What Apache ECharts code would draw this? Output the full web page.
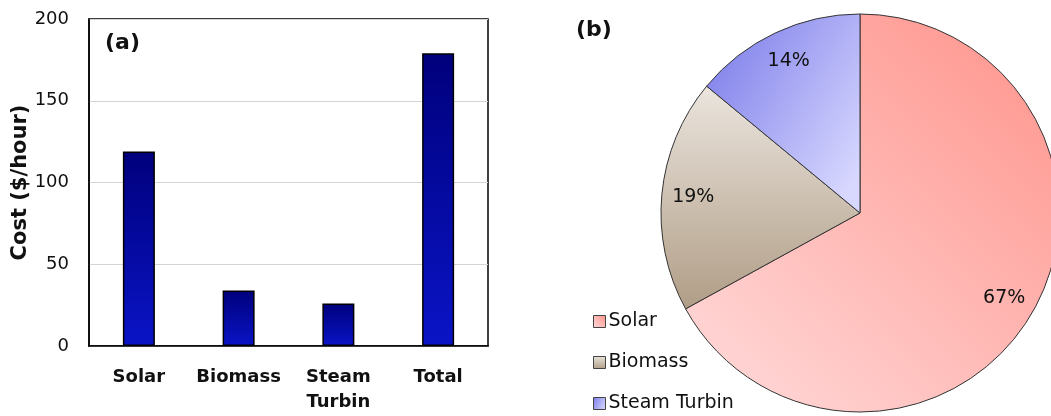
<!DOCTYPE html>
<html>
<head>
<meta charset="utf-8">
<script src="https://cdn.jsdelivr.net/npm/echarts@6/dist/echarts.min.js"></script>
<style>
  html, body { margin: 0; padding: 0; background: #fff; }
  #chart { width: 1051px; height: 416px; }
</style>
</head>
<body>
<div id="chart"></div>
<script>
// bar chart (a)
const categories = ['Solar', 'Biomass', 'Steam\nTurbin', 'Total'];
const costs = [119, 34, 26, 179];
// pie chart (b)
const shareNames = ['Solar', 'Biomass', 'Steam Turbin'];
const shares = [67, 19, 14];

const FONT = '"DejaVu Sans", Verdana, sans-serif';

const sliceColors = [
  { type: 'linear', x: 0, y: 1, x2: 1, y2: 0,
    colorStops: [{ offset: 0, color: '#ffdcdc' }, { offset: 1, color: '#ff928a' }] },
  { type: 'linear', x: 0, y: 0, x2: 0, y2: 1,
    colorStops: [{ offset: 0, color: '#ebe5de' }, { offset: 1, color: '#b09d86' }] },
  { type: 'linear', x: 0, y: 0.3, x2: 1, y2: 0.8,
    colorStops: [{ offset: 0, color: '#8585ec' }, { offset: 1, color: '#d8d8ff' }] }
];

const chart = echarts.init(document.getElementById('chart'));

chart.setOption({
  animation: false,
  textStyle: { fontFamily: FONT },
  title: [
    { text: '(a)', left: 100, top: 27,
      textStyle: { fontFamily: FONT, fontSize: 22, fontWeight: 'bold', color: '#111' } },
    { text: '(b)', left: 571, top: 14,
      textStyle: { fontFamily: FONT, fontSize: 22, fontWeight: 'bold', color: '#111' } }
  ],
  grid: {
    left: 89, top: 19, width: 399, height: 327,
    show: true, borderColor: '#000', borderWidth: 1.5, backgroundColor: 'transparent'
  },
  legend: {
    data: shareNames,
    orient: 'vertical',
    left: 588, top: 307, height: 110,
    itemWidth: 12, itemHeight: 12, itemGap: 22,
    icon: 'rect',
    itemStyle: { borderColor: '#444', borderWidth: 1 },
    textStyle: { fontFamily: FONT, fontSize: 19, color: '#111', padding: [0, 0, 0, -2] }
  },
  xAxis: {
    type: 'category',
    data: categories,
    axisLine: { show: true, lineStyle: { color: '#000', width: 1.5 } },
    axisTick: { show: false },
    axisLabel: {
      interval: 0, hideOverlap: false,
      margin: 19, color: '#111', fontSize: 18, fontWeight: 'bold',
      fontFamily: FONT, lineHeight: 25
    }
  },
  yAxis: {
    type: 'value',
    min: 0, max: 200, interval: 50,
    name: 'Cost ($/hour)',
    nameLocation: 'middle',
    nameGap: 55,
    nameTextStyle: { fontFamily: FONT, fontSize: 21, fontWeight: 'bold', color: '#111' },
    axisLine: { show: true, lineStyle: { color: '#000', width: 1.5 } },
    axisTick: { show: false },
    axisLabel: { margin: 20, color: '#111', fontSize: 18, fontFamily: FONT },
    splitLine: { show: true, lineStyle: { color: '#d4d4d4', width: 1 } }
  },
  series: [
    {
      type: 'bar',
      name: 'Cost',
      data: costs,
      barWidth: 32,
      itemStyle: {
        color: { type: 'linear', x: 0, y: 0, x2: 0, y2: 1,
          colorStops: [{ offset: 0, color: '#00007c' }, { offset: 1, color: '#0a14c6' }] },
        borderColor: '#000', borderWidth: 1.5
      }
    },
    {
      type: 'pie',
      name: 'Share',
      center: [860, 213],
      radius: [0, 199],
      startAngle: 90,
      clockwise: true,
      data: shareNames.map((n, i) => ({ name: n, value: shares[i], itemStyle: { color: sliceColors[i] } })),
      itemStyle: { borderColor: '#333', borderWidth: 1 },
      label: { show: false },
      labelLine: { show: false },
      emphasis: { disabled: true }
    },
    {
      // transparent ring only used to place the percentage labels further out
      type: 'pie',
      name: 'Labels',
      center: [860, 213],
      radius: [130, 199],
      startAngle: 90,
      clockwise: true,
      silent: true,
      data: shareNames.map((n, i) => ({ name: n + ' ', value: shares[i] })),
      itemStyle: { color: 'transparent', borderWidth: 0 },
      label: {
        show: true, position: 'inside', formatter: '{c}%',
        fontFamily: FONT, fontSize: 19, color: '#111'
      },
      labelLine: { show: false },
      emphasis: { disabled: true }
    }
  ]
});
</script>
</body>
</html>
